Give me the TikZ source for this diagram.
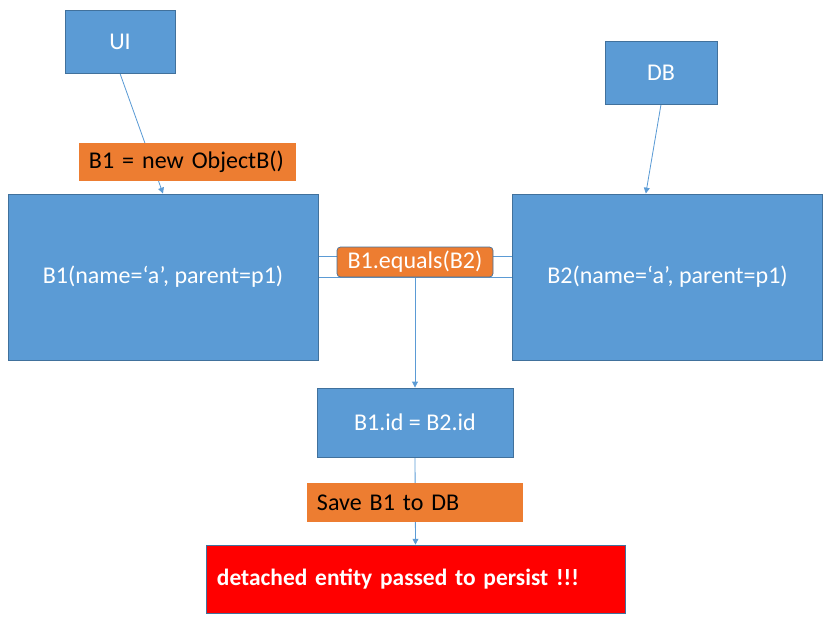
\documentclass[tikz,border=0pt]{standalone}
\usepackage{fontspec}
\setmainfont{Carlito}
\usepackage{tikz}
\usetikzlibrary{arrows.meta,backgrounds}
\usepackage{xcolor}
\definecolor{boxblue}{HTML}{5B9BD5}
\definecolor{edgeblue}{HTML}{41719C}
\definecolor{noteorange}{HTML}{ED7D31}

\begin{document}
\begin{tikzpicture}[x=0.03cm, y=-0.03cm,
  bluebox/.style={draw=edgeblue, line width=0.8pt, fill=boxblue, text=white, inner sep=0pt, font=\fontsize{20.5}{24}\selectfont},
  note/.style={fill=noteorange, text=black, inner sep=0pt, inner xsep=0.3cm, align=left, font=\fontsize{20.5}{24}\selectfont},
  link/.style={draw=boxblue, line width=0.7pt},
  arr/.style={link, -{Triangle[width=5pt,length=5pt]}}]
\useasboundingbox (0,0) rectangle (839,630);
% Top boxes
\node[bluebox, minimum width=3.3cm, minimum height=1.89cm] (ui) at (120,41.5) {UI};
\node[bluebox, minimum width=3.36cm, minimum height=1.89cm] (db) at (661,72.5) {DB};
% Objects
\node[bluebox, minimum width=9.3cm, minimum height=4.98cm] (b1) at (163,277) {B1(name=‘a’, parent=p1)};
\node[bluebox, minimum width=9.3cm, minimum height=4.98cm] (b2) at (667.5,277) {B2(name=‘a’, parent=p1)};
\node[bluebox, minimum width=5.88cm, minimum height=2.07cm] (id) at (415,422.5) {B1.id = B2.id};
% Result
\node[draw=edgeblue, line width=0.6pt, fill=red, text=white, minimum height=2.04cm, inner sep=0pt, inner xsep=0.33cm,
  text width=11.91cm, align=left, font=\fontsize{20}{24}\selectfont\bfseries] (err) at (415.5,579) {detached entity passed to persist !!!};
% Notes
\node[note, minimum height=1.14cm, text width=5.91cm] (create) at (187.5,162) {B1 = new ObjectB()};
\node[note, minimum height=1.17cm, text width=5.88cm] (save) at (415,502.5) {Save B1 to DB};
\node[draw=edgeblue, line width=0.6pt, fill=noteorange, text=white, rounded corners=3pt, inner sep=0pt,
  minimum width=4.68cm, minimum height=0.9cm, font=\fontsize{20.5}{24}\selectfont] (eq) at (415,262) {B1.equals(B2)};
% Connectors
\begin{scope}[on background layer]
\draw[arr] (ui.south) -- (b1.north);
\draw[arr] (db.south) -- ([xshift=-0.65cm]b2.north);
\draw[link] ([yshift=0.63cm]b1.east) -- ([yshift=0.63cm]b2.west);
\draw[link] (b1.east) -- (b2.west);
\draw[arr] (eq.south) -- (id.north);
\draw[arr] (id.south) -- (err.north);
\end{scope}
\end{tikzpicture}
\end{document}
